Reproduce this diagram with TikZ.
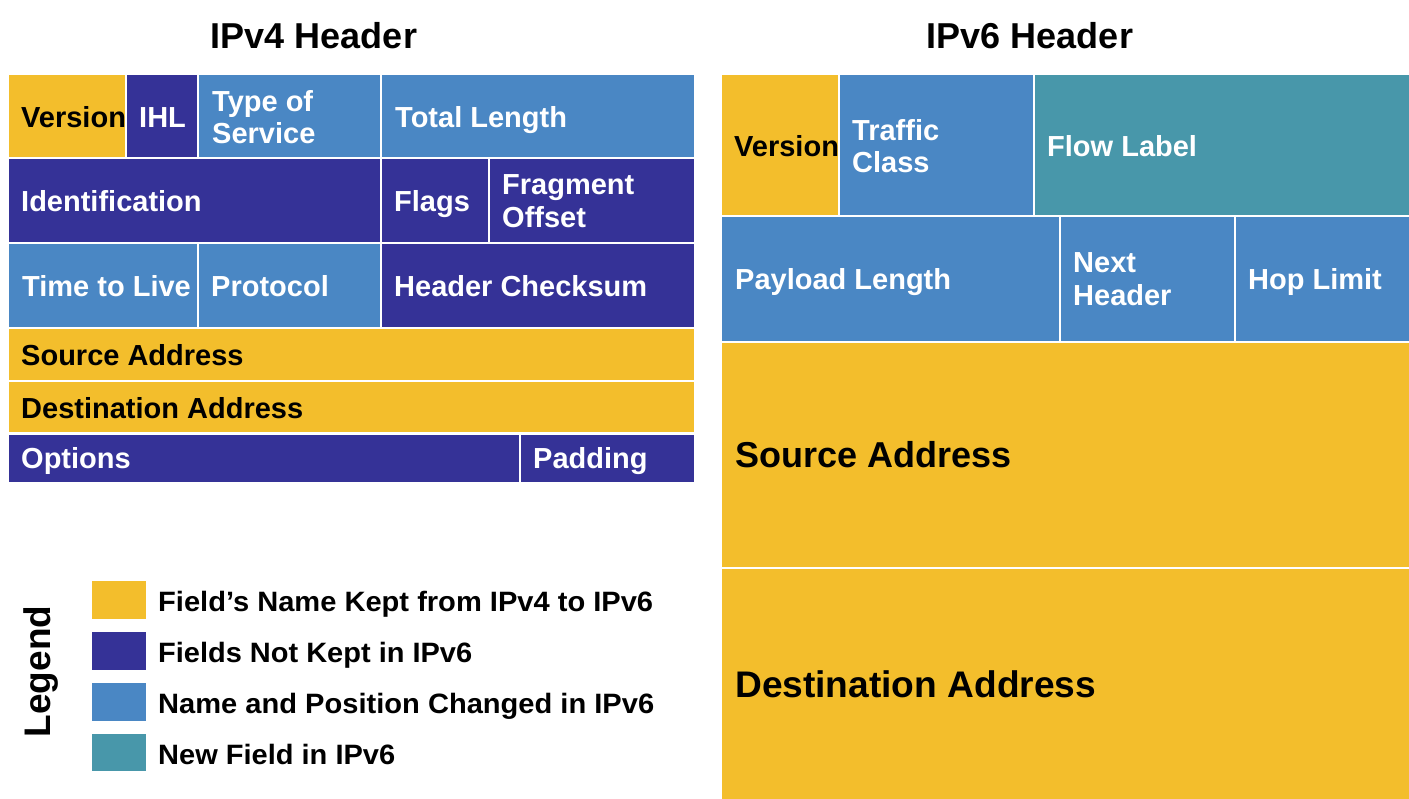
\documentclass[tikz,border=0pt]{standalone}
\usepackage{fontspec}
\setmainfont{Liberation Sans}
\usepackage{graphicx}

\definecolor{kept}{RGB}{243,190,44}
\definecolor{dropped}{RGB}{53,50,151}
\definecolor{changed}{RGB}{74,135,196}
\definecolor{newfield}{RGB}{72,151,170}

\newcommand\fieldfont{\fontsize{29}{32.5}\selectfont\bfseries}

\begin{document}
\begin{tikzpicture}[x=1pt,y=-1pt,
  cell/.style={draw=white,line width=2.2pt},
  % two-line labels: centred on the cell's middle
  lbl/.style={anchor=west,inner sep=0pt,align=left,font=\fieldfont,text=white},
  % one-line labels: placed on their baseline
  one/.style={anchor=base west,inner sep=0pt,font=\fieldfont,text=white},
  dark/.style={text=black},
  title/.style={anchor=base,inner sep=0pt,font=\fontsize{36}{40}\selectfont\bfseries},
  key/.style={anchor=base west,inner sep=0pt,font=\fontsize{28}{30}\selectfont\bfseries}]
\useasboundingbox (0,0) rectangle (1409,799);

% titles
\node[title] (t4) at (314,49) {IPv4 Header};
\node[title] (t6) at (1030,49) {IPv6 Header};

% ---------------- IPv4 header ----------------
\fill[kept,cell]     (8,74)    rectangle (126,158);
\fill[dropped,cell]  (126,74)  rectangle (198,158);
\fill[changed,cell]  (198,74)  rectangle (381,158);
\fill[changed,cell]  (381,74)  rectangle (695,158);
\fill[dropped,cell]  (8,158)   rectangle (381,243);
\fill[dropped,cell]  (381,158) rectangle (489,243);
\fill[dropped,cell]  (489,158) rectangle (695,243);
\fill[changed,cell]  (8,243)   rectangle (198,328);
\fill[changed,cell]  (198,243) rectangle (381,328);
\fill[dropped,cell]  (381,243) rectangle (695,328);
\fill[kept,cell]     (8,328)   rectangle (695,381);
\fill[kept,cell]     (8,381)   rectangle (695,433.5);
\fill[dropped,cell]  (8,433.5) rectangle (520,483);
\fill[dropped,cell]  (520,433.5) rectangle (695,483);

\node[one,dark] (v4ver)  at (21,127.5)  {Version};
\node[one]  (v4ihl)  at (139,127.5) {IHL};
\node[lbl]  (v4tos)  at (212,117)   {Type of\\Service};
\node[one]  (v4len)  at (395,127.5) {Total Length};
\node[one]  (v4id)   at (21,211.5)  {Identification};
\node[one]  (v4flg)  at (394,211.5) {Flags};
\node[lbl]  (v4frag) at (502,201)   {Fragment\\Offset};
\node[one]  (v4ttl)  at (22,296.5)  {Time to Live};
\node[one]  (v4pro)  at (211,296.5) {Protocol};
\node[one]  (v4chk)  at (394,296.5) {Header Checksum};
\node[one,dark] (v4src)  at (21,365.5)  {Source Address};
\node[one,dark] (v4dst)  at (21,418.5)  {Destination Address};
\node[one]  (v4opt)  at (21,468.5)  {Options};
\node[one]  (v4pad)  at (533,468.5) {Padding};

% ---------------- IPv6 header ----------------
\fill[kept,cell]     (721,74)   rectangle (839,216);
\fill[changed,cell]  (839,74)   rectangle (1034,216);
\fill[newfield,cell] (1034,74)  rectangle (1412,216);
\fill[changed,cell]  (721,216)  rectangle (1060,342);
\fill[changed,cell]  (1060,216) rectangle (1235,342);
\fill[changed,cell]  (1235,216) rectangle (1412,342);
\fill[kept,cell]     (721,342)  rectangle (1412,568);
\fill[kept,cell]     (721,568)  rectangle (1412,802);

\node[one,dark] (v6ver) at (734,156.5)  {Version};
\node[lbl]  (v6tc)  at (852,146)    {Traffic\\Class};
\node[one]  (v6fl)  at (1047,156.5) {Flow Label};
\node[one]  (v6pl)  at (735,289.5)  {Payload Length};
\node[lbl]  (v6nh)  at (1073,279)   {Next\\Header};
\node[one]  (v6hl)  at (1248,289.5) {Hop Limit};
\node[one,dark,font=\fontsize{36}{40}\selectfont\bfseries] (v6src) at (735,467.5) {Source Address};
\node[one,dark,font=\fontsize{37}{40}\selectfont\bfseries] (v6dst) at (735,697)
  {\resizebox{361pt}{\height}{Destination Address}};

% ---------------- legend ----------------
\node[anchor=base,inner sep=0pt,rotate=90,font=\fontsize{37}{40}\selectfont\bfseries]
  (legend) at (50,671.5) {Legend};

\fill[kept]     (92,581) rectangle (146,619);
\fill[dropped]  (92,632) rectangle (146,670);
\fill[changed]  (92,683) rectangle (146,721);
\fill[newfield] (92,734) rectangle (146,771);

\node[key] (k1) at (158,611.5) {\resizebox{495pt}{\height}{Field’s Name Kept from IPv4 to IPv6}};
\node[key] (k2) at (158,662.5) {\resizebox{314pt}{\height}{Fields Not Kept in IPv6}};
\node[key] (k3) at (158,713.5) {\resizebox{496pt}{\height}{Name and Position Changed in IPv6}};
\node[key] (k4) at (158,764)   {\resizebox{237pt}{\height}{New Field in IPv6}};
\end{tikzpicture}
\end{document}
